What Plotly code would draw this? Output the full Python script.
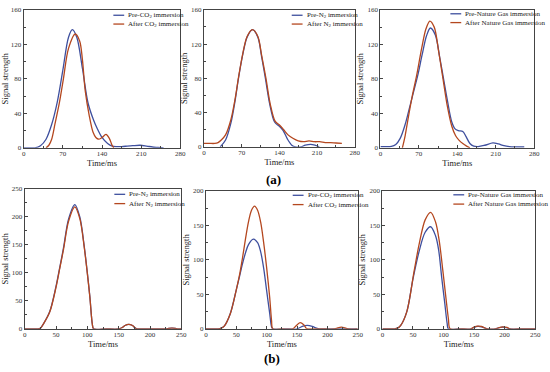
import plotly.graph_objects as go

W, H = 550, 372
BLUE = "#3e4f9e"
RED = "#b4471f"
FONT = "Liberation Serif"

# ---------------- (a) top row: CO2 ----------------
a1_pre_t = [0, 10, 20, 30, 40, 50, 60, 70, 80, 87, 95, 105, 115, 125, 131, 140, 150, 157, 165, 175, 185, 195, 208, 220, 230, 240, 250]
a1_pre_v = [0, 0, 0, 2.5, 10, 27, 53, 90, 128, 137, 128, 92, 52, 32, 23, 12, 5, 2.4, 1.5, 1.5, 2, 2.5, 3, 2, 1, 0.5, 0]
a1_aft_t = [40, 45, 50, 56, 64, 71, 80, 92, 100, 105, 110, 117, 124, 129, 134, 140, 147, 153, 158, 161]
a1_aft_v = [0, 3, 10, 28, 53, 80, 115, 132, 124, 102, 66, 38, 18, 12, 10, 12, 15.5, 11, 3, 0]

# ---------------- (a) top row: N2 ----------------
a2_pre_t = [30, 40, 50, 58, 64, 72, 80, 90, 100, 107, 114, 122, 131, 140, 147, 155, 163, 170, 180, 188, 198, 206, 214]
a2_pre_v = [0, 8, 28, 55, 80, 108, 128, 137, 128, 105, 80, 50, 29, 24, 19, 9, 2, 0, 0, 2, 3, 2, 0]
a2_aft_t = [0, 10, 20, 26, 32, 40, 50, 58, 64, 72, 80, 90, 100, 107, 115, 123, 132, 141, 148, 156, 165, 175, 185, 195, 205, 215, 225, 235, 245, 256]
a2_aft_v = [4, 4, 4, 5, 8, 14, 32, 57, 81, 109, 129, 137, 129, 107, 80, 50, 30, 25, 20, 14, 10, 7, 6, 7, 6, 6, 5, 5, 4.5, 4]

# ---------------- (a) top row: Nature Gas ----------------
a3_pre_t = [0, 10, 20, 28, 36, 45, 52, 60, 68, 76, 84, 91, 100, 108, 115, 122, 130, 136, 142, 150, 156, 163, 170, 178, 190, 205, 215, 225, 235, 245, 262]
a3_pre_v = [1.5, 1.5, 1.8, 4, 11, 27, 44, 64, 84, 108, 130, 139, 131, 105, 80, 55, 30, 22, 20, 19, 13, 5, 2, 1.5, 3, 5.7, 4.5, 2.5, 1.5, 1.2, 1.2]
a3_aft_t = [40, 45, 51, 58, 66, 75, 83, 90, 98, 106, 114, 122, 130, 137, 143, 150, 157, 163]
a3_aft_v = [0, 14, 36, 60, 84, 115, 138, 147, 140, 112, 80, 48, 25, 14, 9, 5, 2, 0]

# ---------------- (b) bottom row: N2 ----------------
b1_pre_t = [0, 10, 20, 25, 30, 40, 50, 56, 62, 70, 80, 88, 95, 100, 104, 108, 110, 130, 150, 155, 160, 166, 172, 177, 180, 200, 225, 230, 235, 240, 245, 250]
b1_pre_v = [0, 0, 0, 1, 9, 31, 76, 110, 145, 196, 222, 200, 148, 100, 58, 8, 0, 0, 0, 2, 6, 8, 6, 1, 0, 0, 0, 1, 1.5, 1, 0, 0]
b1_aft_t = [0, 10, 20, 25, 30, 40, 50, 56, 62, 70, 80, 88, 95, 100, 104, 108, 110, 130, 150, 155, 160, 166, 172, 177, 180, 200, 225, 230, 235, 240, 245, 250]
b1_aft_v = [0, 0, 0, 1, 9, 30, 74, 108, 142, 192, 218, 197, 146, 99, 57, 8, 0, 0, 0, 2, 6, 8, 6, 1, 0, 0, 0, 1, 1.5, 1, 0, 0]

# ---------------- (b) bottom row: CO2 ----------------
b2_pre_t = [0, 10, 20, 25, 30, 40, 50, 55, 60, 65, 70, 78, 85, 90, 95, 100, 105, 108, 110, 130, 150, 155, 160, 167, 175, 182, 187, 200, 250]
b2_pre_v = [0, 0, 0, 1, 4, 22, 57, 75, 94, 110, 122, 130, 125, 112, 88, 55, 22, 3, 0, 0, 0, 2, 4, 5, 3.5, 1, 0, 0, 0]
b2_aft_t = [0, 10, 20, 25, 30, 40, 50, 55, 60, 65, 70, 75, 80, 85, 90, 95, 100, 105, 108, 110, 125, 143, 148, 155, 161, 165, 168, 190, 212, 217, 223, 229, 234, 250]
b2_aft_v = [0, 0, 0, 1, 4, 22, 57, 77, 102, 130, 155, 172, 178, 172, 155, 125, 88, 45, 12, 0, 0, 0, 4, 9, 6, 1, 0, 0, 0, 1.5, 2.5, 1.5, 0, 0]

# ---------------- (b) bottom row: Nature Gas ----------------
b3_pre_t = [0, 10, 20, 25, 30, 40, 50, 60, 70, 79, 87, 92, 97, 102, 106, 108, 125, 145, 150, 156, 162, 168, 172, 185, 190, 197, 204, 209, 230, 250]
b3_pre_v = [0, 0, 0, 1, 5, 25, 72, 112, 140, 148, 135, 115, 75, 38, 8, 0, 0, 0, 2, 3.5, 3, 1, 0, 0, 1.5, 2.5, 1.5, 0, 0, 0]
b3_aft_t = [0, 10, 20, 25, 30, 40, 52, 60, 70, 79, 87, 93, 99, 104, 108, 111, 128, 145, 150, 156, 162, 168, 172, 185, 190, 197, 204, 209, 230, 250]
b3_aft_v = [0, 0, 0, 1, 5, 25, 84, 122, 158, 169, 155, 128, 84, 45, 15, 0, 0, 0, 2.5, 4, 3.5, 1, 0, 0, 1.5, 3, 2, 0, 0, 0]

# legend names
names_a1 = ["Pre-CO<sub>2</sub> immersion", "After CO<sub>2</sub> immersion"]
names_a2 = ["Pre-N<sub>2</sub> immersion", "After N<sub>2</sub> immersion"]
names_a3 = ["Pre-Nature Gas immersion", "After Nature Gas immersion"]
names_b1 = ["Pre-N<sub>2</sub> immersion", "After N<sub>2</sub> immersion"]
names_b2 = ["Pre-CO<sub>2</sub> immersion", "After CO<sub>2</sub> immersion"]
names_b3 = ["Pre-Nature Gas immersion", "After Nature Gas immersion"]

x_title = "Time/ms"
y_title = "Signal strength"

# layout config (pixel boxes: left, top, right, bottom), axis ranges, ticks, legend placement
panels = [
    dict(data=(a1_pre_t, a1_pre_v, a1_aft_t, a1_aft_v), names=names_a1, box=(22, 6, 181, 147),
         xr=280, xd=70, yr=160, yd=40, leg=(113, 11.5, 20.5)),
    dict(data=(a2_pre_t, a2_pre_v, a2_aft_t, a2_aft_v), names=names_a2, box=(205, 6, 358, 146),
         xr=280, xd=70, yr=160, yd=40, leg=(294, 11.5, 20.5)),
    dict(data=(a3_pre_t, a3_pre_v, a3_aft_t, a3_aft_v), names=names_a3, box=(384, 6, 540, 147),
         xr=280, xd=70, yr=160, yd=40, leg=(455, 10, 19)),
    dict(data=(b1_pre_t, b1_pre_v, b1_aft_t, b1_aft_v), names=names_b1, box=(23, 189, 182, 332),
         xr=250, xd=50, yr=250, yd=50, leg=(114, 194.5, 204)),
    dict(data=(b2_pre_t, b2_pre_v, b2_aft_t, b2_aft_v), names=names_b2, box=(207, 191, 361, 332),
         xr=250, xd=50, yr=200, yd=50, leg=(295, 195.5, 205)),
    dict(data=(b3_pre_t, b3_pre_v, b3_aft_t, b3_aft_v), names=names_b3, box=(386, 191, 541, 332),
         xr=250, xd=50, yr=200, yd=50, leg=(458, 195, 204.5)),
]

fig = go.Figure()
shapes = []
annotations = []
layout_axes = {}

for i, p in enumerate(panels, start=1):
    l, t, r, b = p["box"]
    sx = "" if i == 1 else str(i)
    pre_t, pre_v, aft_t, aft_v = p["data"]
    for tt, vv, col, nm in ((pre_t, pre_v, BLUE, p["names"][0]), (aft_t, aft_v, RED, p["names"][1])):
        fig.add_trace(go.Scatter(x=tt, y=vv, mode="lines", name=nm, showlegend=False,
                                 line=dict(color=col, width=1.3, shape="spline", smoothing=0.9),
                                 xaxis="x" + sx, yaxis="y" + sx))
    common = dict(showline=True, linecolor="#444", linewidth=1, mirror=True, showgrid=False,
                  zeroline=False, ticks="inside", ticklen=3, tickcolor="#444", tickwidth=1,
                  tickfont=dict(family=FONT, size=7, color="#333"))
    layout_axes["xaxis" + sx] = dict(
        domain=[l / W, r / W], anchor="y" + sx, range=[0, p["xr"]], dtick=p["xd"], tick0=0,
        minor=dict(ticks="inside", ticklen=2, dtick=p["xd"] / 2, tickcolor="#444"),
        title=dict(text=x_title, font=dict(family=FONT, size=8.5, color="#222"), standoff=0),
        ticklabelstandoff=-1,
        **common)
    layout_axes["yaxis" + sx] = dict(
        domain=[1 - b / H, 1 - t / H], anchor="x" + sx, range=[0, p["yr"]], dtick=p["yd"], tick0=0,
        minor=dict(ticks="inside", ticklen=2, dtick=p["yd"] / 2, tickcolor="#444"),
        title=dict(text=y_title, font=dict(family=FONT, size=8.5, color="#222"), standoff=2),
        **common)
    # manual compact legend
    lx, ry1, ry2 = p["leg"]
    for ry, col, nm in ((ry1, BLUE, p["names"][0]), (ry2, RED, p["names"][1])):
        shapes.append(dict(type="line", xref="paper", yref="paper",
                           x0=lx / W, x1=(lx + 11) / W, y0=1 - ry / H, y1=1 - ry / H,
                           line=dict(color=col, width=1.3)))
        annotations.append(dict(text=nm, xref="paper", yref="paper", x=(lx + 13) / W, y=1 - ry / H,
                                xanchor="left", yanchor="middle", showarrow=False,
                                font=dict(family=FONT, size=7, color="#222")))

annotations.append(dict(text="<b>(a)</b>", xref="paper", yref="paper", x=275 / W, y=1 - 179 / H,
                        xanchor="center", yanchor="middle", showarrow=False,
                        font=dict(family=FONT, size=13, color="#000")))
annotations.append(dict(text="<b>(b)</b>", xref="paper", yref="paper", x=274 / W, y=1 - 362 / H,
                        xanchor="center", yanchor="middle", showarrow=False,
                        font=dict(family=FONT, size=13, color="#000")))

fig.update_layout(width=W, height=H, margin=dict(l=0, r=0, t=0, b=0),
                  paper_bgcolor="white", plot_bgcolor="white", showlegend=False,
                  shapes=shapes, annotations=annotations, **layout_axes)

# remove the browser's default page margin so the figure sits at the window origin
fig.write_html("out.html", config={"displayModeBar": False},
               post_script="document.body.style.margin='0px';")
